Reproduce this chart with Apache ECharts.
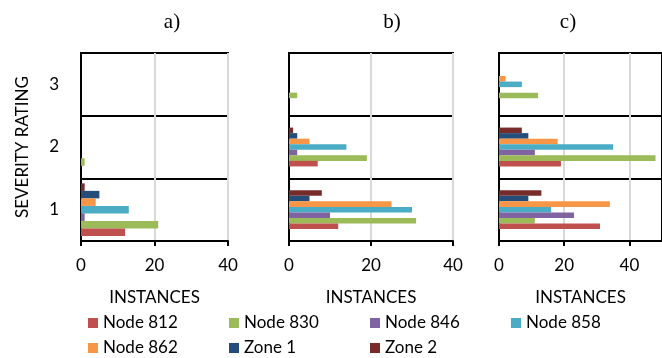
<!DOCTYPE html>
<html>
<head>
<meta charset="utf-8">
<script src="https://cdn.jsdelivr.net/npm/echarts@6/dist/echarts.min.js"></script>
<style>
  html, body { margin: 0; padding: 0; background: #fff; }
  #chart { width: 662px; height: 358px; }
</style>
</head>
<body>
<div id="chart"></div>
<script>
// Severity ratings on the category axis (bottom to top)
const severities = ['1', '2', '3'];
const panelTitles = ['a)', 'b)', 'c)'];
const xTicks = [0, 20, 40];

// Instances per severity rating [1, 2, 3], one row per panel a), b), c)
const node812 = [[12, 0, 0], [12, 7, 0], [31, 19, 0]];
const node830 = [[21, 1, 0], [31, 19, 2], [11, 48, 12]];
const node846 = [[1, 0, 0], [10, 2, 0], [23, 11, 0]];
const node858 = [[13, 0, 0], [30, 14, 0], [16, 35, 7]];
const node862 = [[4, 0, 0], [25, 5, 0], [34, 18, 2]];
const zone1 = [[5, 0, 0], [5, 2, 0], [9, 9, 0]];
const zone2 = [[1, 0, 0], [8, 1, 0], [13, 7, 0]];

const seriesDefs = [
  { name: 'Node 812', values: node812, color: '#C0504D' },
  { name: 'Node 830', values: node830, color: '#9BBB59' },
  { name: 'Node 846', values: node846, color: '#8064A2' },
  { name: 'Node 858', values: node858, color: '#4BACC6' },
  { name: 'Node 862', values: node862, color: '#F79646' },
  { name: 'Zone 1', values: zone1, color: '#254D7A' },
  { name: 'Zone 2', values: zone2, color: '#772C2A' }
];

const FONT = 'Lato';
const panels = [
  { left: 81, width: 147, max: 40, gap: '16%' },
  { left: 289, width: 164, max: 40, gap: '38%' },
  { left: 499, width: 164, max: 50, gap: '38%' }
];

const chart = echarts.init(document.getElementById('chart'), null, { renderer: 'canvas' });

const grids = panels.map(p => ({
  left: p.left, width: p.width, top: 53, height: 188,
  show: true, borderColor: '#000', borderWidth: 2, containLabel: false
}));

const xAxes = panels.map((p, i) => ({
  type: 'value', gridIndex: i, min: 0, max: p.max, interval: 20,
  name: 'INSTANCES', nameLocation: 'middle', nameGap: 48,
  nameTextStyle: { fontFamily: FONT, fontSize: 17, color: '#000' },
  axisLine: { show: true, lineStyle: { color: '#000', width: 2 } },
  axisTick: { show: true, length: 5, lineStyle: { color: '#000', width: 2 },
    customValues: xTicks },
  axisLabel: { fontFamily: FONT, fontSize: 17, color: '#000', margin: 16,
    customValues: xTicks },
  splitLine: { show: true, lineStyle: { color: '#D9D9D9', width: 2 } }
}));

const yAxes = panels.map((p, i) => ({
  type: 'category', gridIndex: i, data: severities,
  name: i === 0 ? 'SEVERITY RATING' : '', nameLocation: 'middle', nameGap: 50,
  nameTextStyle: { fontFamily: FONT, fontSize: 17, color: '#000' },
  axisLine: { show: true, lineStyle: { color: '#000', width: 2 } },
  axisTick: { show: false },
  axisLabel: { show: i === 0, fontFamily: FONT, fontSize: 17, color: '#000', margin: 22 },
  splitLine: { show: true, lineStyle: { color: '#000', width: 2 } }
}));

// Bars stack from the bottom of each band in reverse series order,
// so add them last-to-first to put Node 812 at the bottom.
const series = [];
panels.forEach((p, i) => {
  seriesDefs.slice().reverse().forEach(s => {
    series.push({
      type: 'bar', name: s.name, xAxisIndex: i, yAxisIndex: i,
      data: s.values[i], barGap: '0%', barCategoryGap: p.gap,
      itemStyle: { color: s.color },
      emphasis: { disabled: true }, animation: false
    });
  });
});

const titleCenters = [172, 392, 568];
const graphics = panelTitles.map((t, i) => ({
  type: 'text', x: titleCenters[i], y: 22,
  style: { text: t, fill: '#000', font: '21px "Liberation Serif"',
    textAlign: 'center', textVerticalAlign: 'middle' }
}));

chart.setOption({
  animation: false,
  grid: grids,
  xAxis: xAxes,
  yAxis: yAxes,
  series: series,
  graphic: graphics,
  legend: {
    data: seriesDefs.map(s => s.name),
    left: 88, top: 313, width: 580, padding: 0,
    icon: 'rect', itemWidth: 10, itemHeight: 10, itemGap: 5,
    textStyle: { fontFamily: FONT, fontSize: 17, color: '#000', width: 121, lineHeight: 20 }
  }
});
</script>
</body>
</html>
